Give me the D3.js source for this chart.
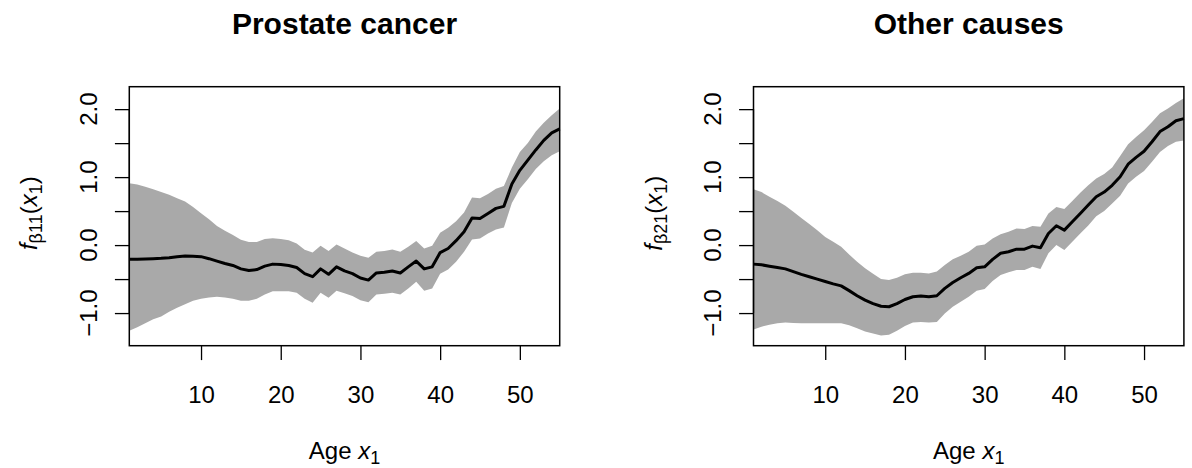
<!DOCTYPE html>
<html>
<head>
<meta charset="utf-8">
<script src="https://d3js.org/d3.v7.min.js"></script>
<style>
  body { margin: 0; background: #fff; }
  text { font-family: "Liberation Sans", Arial, sans-serif; fill: #000; }
</style>
</head>
<body>
<svg id="chart" width="1192" height="468"></svg>
<script>
// ages on the x axis
var ages = [1,2,3,4,5,6,7,8,9,10,11,12,13,14,15,16,17,18,19,20,
            21,22,23,24,25,26,27,28,29,30,31,32,33,34,35,36,37,38,39,40,
            41,42,43,44,45,46,47,48,49,50,51,52,53,54,55];

// Prostate cancer: fitted effect and band
var prostateFit = [-0.21,-0.21,-0.205,-0.20,-0.195,-0.185,-0.17,-0.16,-0.165,-0.17,
  -0.20,-0.235,-0.27,-0.30,-0.35,-0.375,-0.36,-0.31,-0.28,-0.285,
  -0.30,-0.33,-0.42,-0.465,-0.35,-0.43,-0.32,-0.38,-0.42,-0.485,
  -0.515,-0.41,-0.40,-0.38,-0.41,-0.32,-0.235,-0.35,-0.32,-0.11,
  -0.05,0.065,0.195,0.40,0.39,0.465,0.54,0.57,0.90,1.10,
  1.25,1.40,1.54,1.65,1.71];
var prostateUpper = [0.91,0.89,0.86,0.82,0.78,0.74,0.69,0.64,0.56,0.47,
  0.38,0.28,0.21,0.15,0.08,0.045,0.044,0.088,0.10,0.09,
  0.07,0.025,-0.07,-0.108,-0.01,-0.088,0.01,-0.05,-0.11,-0.157,
  -0.186,-0.098,-0.088,-0.064,-0.098,-0.025,0.06,-0.05,-0.01,0.18,
  0.255,0.35,0.48,0.70,0.69,0.75,0.83,0.87,1.14,1.37,
  1.50,1.67,1.80,1.91,2.01];
var prostateLower = [-1.26,-1.21,-1.15,-1.09,-1.05,-0.98,-0.92,-0.87,-0.82,-0.79,
  -0.77,-0.76,-0.77,-0.79,-0.82,-0.82,-0.79,-0.725,-0.68,-0.68,
  -0.68,-0.70,-0.79,-0.85,-0.70,-0.775,-0.67,-0.71,-0.75,-0.81,
  -0.84,-0.725,-0.715,-0.70,-0.725,-0.64,-0.54,-0.67,-0.64,-0.42,
  -0.36,-0.245,-0.098,0.083,0.098,0.17,0.23,0.26,0.62,0.83,
  0.97,1.12,1.235,1.32,1.38];

// Other causes: fitted effect and band
var otherFit = [-0.28,-0.29,-0.31,-0.33,-0.35,-0.39,-0.43,-0.465,-0.50,-0.535,
  -0.57,-0.60,-0.67,-0.745,-0.81,-0.86,-0.90,-0.907,-0.86,-0.80,
  -0.76,-0.75,-0.76,-0.745,-0.637,-0.55,-0.48,-0.417,-0.333,-0.32,
  -0.21,-0.12,-0.098,-0.06,-0.06,-0.015,-0.04,0.17,0.284,0.22,
  0.343,0.466,0.59,0.71,0.78,0.88,1.005,1.19,1.29,1.38,
  1.52,1.67,1.74,1.83,1.86];
var otherUpper = [0.82,0.78,0.71,0.65,0.58,0.49,0.40,0.31,0.22,0.12,
  0.05,-0.025,-0.14,-0.245,-0.34,-0.42,-0.50,-0.515,-0.48,-0.43,
  -0.407,-0.407,-0.417,-0.39,-0.294,-0.21,-0.157,-0.098,-0.01,0.01,
  0.098,0.16,0.196,0.245,0.235,0.28,0.27,0.466,0.56,0.53,
  0.647,0.77,0.88,0.98,1.044,1.14,1.31,1.485,1.59,1.69,
  1.81,1.94,2.01,2.09,2.16];
var otherLower = [-1.24,-1.20,-1.17,-1.15,-1.14,-1.145,-1.15,-1.15,-1.15,-1.15,
  -1.15,-1.15,-1.18,-1.225,-1.27,-1.30,-1.33,-1.32,-1.26,-1.19,
  -1.14,-1.13,-1.14,-1.13,-1.005,-0.907,-0.833,-0.76,-0.67,-0.647,
  -0.53,-0.44,-0.40,-0.368,-0.368,-0.32,-0.353,-0.12,0.0,-0.074,
  0.05,0.17,0.29,0.426,0.50,0.61,0.725,0.907,1.005,1.09,
  1.225,1.37,1.456,1.52,1.54];

// ticks
var xTicks = [10, 20, 30, 40, 50];
var yTicks = [-1.0, -0.5, 0.0, 0.5, 1.0, 1.5, 2.0];
var yLabelTicks = [-1.0, 0.0, 1.0, 2.0];

var svg = d3.select("#chart");
svg.append("rect").attr("width", 1192).attr("height", 468).attr("fill", "#fff");

var top_ = 86.7, bottom = 345.7, plotW = 430.4;
var fontSize = 24, tickLen = 14.4;

function fmt(v) {
  return (v < 0 ? "\u2212" : "") + Math.abs(v).toFixed(1);
}

function drawPanel(left, title, sub, fit, upper, lower) {
  var x = d3.scaleLinear().domain([1, 55]).range([left, left + plotW]);
  var y = d3.scaleLinear().domain([-1.48, 2.33]).range([bottom, top_]);
  var g = svg.append("g");

  // confidence band
  var area = d3.area()
    .x(function(d, i) { return x(ages[i]); })
    .y0(function(d, i) { return y(lower[i]); })
    .y1(function(d, i) { return y(upper[i]); });
  g.append("path").datum(fit).attr("d", area).attr("fill", "#a9a9a9");

  // fitted line
  var line = d3.line()
    .x(function(d, i) { return x(ages[i]); })
    .y(function(d) { return y(d); });
  g.append("path").datum(fit).attr("d", line)
    .attr("fill", "none").attr("stroke", "#000").attr("stroke-width", 3)
    .attr("stroke-linejoin", "round");

  // box
  g.append("rect").attr("x", left).attr("y", top_)
    .attr("width", plotW).attr("height", bottom - top_)
    .attr("fill", "none").attr("stroke", "#000").attr("stroke-width", 1.5);

  // x axis
  var xa = g.append("g").attr("transform", "translate(0," + bottom + ")")
    .call(d3.axisBottom(x).tickValues(xTicks).tickSize(tickLen).tickPadding(0).tickFormat(d3.format("d")));
  xa.select(".domain").remove();
  xa.selectAll("line").attr("stroke-width", 1.3);
  xa.selectAll("text").attr("font-size", fontSize).attr("font-family", null)
    .attr("y", 57).attr("dy", null).attr("fill", "#000");

  // y axis
  var ya = g.append("g").attr("transform", "translate(" + left + ",0)")
    .call(d3.axisLeft(y).tickValues(yTicks).tickSize(tickLen).tickFormat(""));
  ya.select(".domain").attr("d", "M0," + y(-1.0) + "V" + y(2.0)).attr("stroke-width", 1.3);
  ya.selectAll("line").attr("stroke-width", 1.3);
  g.selectAll(".ylab").data(yLabelTicks).enter().append("text")
    .attr("transform", function(d) { return "translate(" + (left - 32.6) + "," + y(d) + ") rotate(-90)"; })
    .attr("text-anchor", "middle").attr("font-size", fontSize)
    .text(fmt);

  // title
  g.append("text").attr("x", left + plotW / 2).attr("y", 34.3)
    .attr("text-anchor", "middle").attr("font-size", 30).attr("font-weight", "bold")
    .text(title);

  // x label
  var xl = g.append("text").attr("x", left + plotW / 2).attr("y", 459.3)
    .attr("text-anchor", "middle").attr("font-size", fontSize);
  xl.append("tspan").text("Age ");
  xl.append("tspan").attr("font-style", "italic").text("x");
  xl.append("tspan").attr("font-size", 18).attr("dy", 5).text("1");

  // y label
  var yl = g.append("text")
    .attr("transform", "translate(" + (left - 92) + "," + ((top_ + bottom) / 2 - 3) + ") rotate(-90)")
    .attr("text-anchor", "middle").attr("font-size", fontSize);
  yl.append("tspan").attr("font-style", "italic").text("f");
  yl.append("tspan").attr("font-size", 18).attr("dy", 5).text(sub);
  yl.append("tspan").attr("dy", -5).text("(");
  yl.append("tspan").attr("font-style", "italic").text("x");
  yl.append("tspan").attr("font-size", 18).attr("dy", 5).text("1");
  yl.append("tspan").attr("dy", -5).text(")");
}

drawPanel(129.3, "Prostate cancer", "\u03b211", prostateFit, prostateUpper, prostateLower);
drawPanel(753.5, "Other causes", "\u03b221", otherFit, otherUpper, otherLower);
</script>
</body>
</html>
